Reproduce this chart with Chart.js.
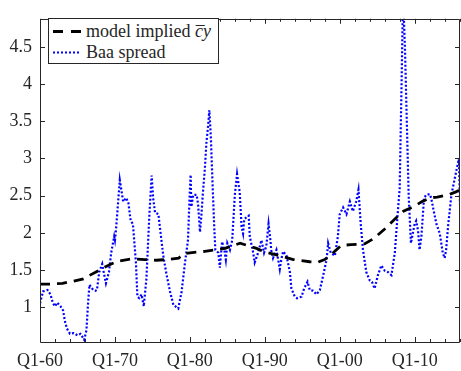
<!DOCTYPE html>
<html>
<head>
<meta charset="utf-8">
<script src="https://cdn.jsdelivr.net/npm/chart.js@4"></script>
<style>
  body { margin: 0; background: #fff; }
  #wrap { position: relative; width: 461px; height: 371px; }
  #legend {
    position: absolute; left: 48px; top: 18px; width: 171px; height: 46px;
    background: #fff; border: 1px solid #262626; box-sizing: border-box;
    font-family: "Times New Roman", Times, "Liberation Serif", "Noto Serif", "DejaVu Serif", serif;
    font-size: 18px; color: #262626;
  }
  .row { position: absolute; left: 3px; height: 20px; line-height: 20px; white-space: nowrap; }
  .row svg { position: absolute; left: 0; top: 9px; }
  .row span.txt { position: absolute; left: 34px; top: 0; }
</style>
</head>
<body>
<div id="wrap">
  <canvas id="chart" width="461" height="371"></canvas>
  <div id="legend"></div>
</div>
<script>
// Baa spread (quarterly)
const spreadYears = [
  1960.0, 1960.4, 1961.0, 1961.4, 1961.7, 1962.0, 1962.3, 1962.75, 1963.1, 1963.3,
  1963.6, 1964.0, 1964.5, 1965.0, 1965.4, 1965.9, 1966.2, 1966.4, 1966.6, 1966.8,
  1967.1, 1967.4, 1967.6, 1967.9, 1968.3, 1968.5, 1968.8, 1969.2, 1969.5, 1969.9,
  1970.0, 1970.1, 1970.3, 1970.65, 1970.9, 1971.1, 1971.5, 1971.8, 1972.1, 1972.4,
  1972.8, 1973.0, 1973.25, 1973.55, 1973.85, 1974.2, 1974.6, 1974.9, 1975.1, 1975.35,
  1975.8, 1976.1, 1976.45, 1976.9, 1977.35, 1977.8, 1978.45, 1978.9, 1979.35, 1979.75,
  1979.95, 1980.1, 1980.2, 1980.45, 1980.9, 1981.1, 1981.35, 1981.55, 1981.75, 1982.0,
  1982.2, 1982.45, 1982.6, 1982.8, 1983.0, 1983.25, 1983.4, 1983.8, 1984.0, 1984.3,
  1984.6, 1984.8, 1985.0, 1985.35, 1985.65, 1986.0, 1986.3, 1986.65, 1986.9, 1987.1,
  1987.25, 1987.55, 1987.85, 1988.0, 1988.45, 1988.65, 1989.1, 1989.55, 1989.9, 1990.2,
  1990.5, 1990.75, 1990.85, 1991.1, 1991.55, 1991.85, 1992.0, 1992.2, 1992.45, 1992.9,
  1993.35, 1993.55, 1994.0, 1994.3, 1994.9, 1995.25, 1995.7, 1996.0, 1996.45, 1996.9,
  1997.35, 1997.8, 1998.25, 1998.45, 1998.8, 1999.35, 1999.75, 2000.0, 2000.45, 2000.9,
  2001.35, 2001.75, 2002.2, 2002.5, 2002.8, 2003.1, 2003.55, 2004.0, 2004.3, 2004.65,
  2005.1, 2005.55, 2006.0, 2006.45, 2006.9, 2007.35, 2007.7, 2008.0, 2008.25, 2008.45,
  2008.7, 2008.95, 2009.2, 2009.5, 2010.0, 2010.2, 2010.45, 2010.65, 2010.9, 2011.25,
  2011.55, 2012.0, 2012.2, 2012.55, 2012.9, 2013.35, 2013.55, 2013.75, 2014.0, 2014.2,
  2014.45, 2014.9, 2015.35, 2015.7, 2015.9, 2016.05
];
const spreadValues = [
  1.05, 1.21, 1.23, 1.17, 1.06, 1.01, 1.06, 1.01, 0.95, 0.82,
  0.71, 0.64, 0.65, 0.62, 0.64, 0.56, 0.69, 1.03, 1.30, 1.27,
  1.23, 1.22, 1.23, 1.47, 1.58, 1.47, 1.32, 1.47, 1.73, 1.95,
  1.90, 1.99, 2.25, 2.71, 2.55, 2.42, 2.47, 2.40, 2.16, 2.12,
  1.60, 1.14, 1.12, 1.17, 1.01, 1.38, 2.25, 2.77, 2.47, 2.27,
  2.25, 1.99, 1.69, 1.43, 1.21, 1.03, 0.98, 1.21, 1.60, 1.90,
  2.45, 2.78, 2.35, 2.51, 2.51, 2.38, 2.01, 2.25, 2.55, 2.86,
  3.20, 3.46, 3.65, 3.29, 2.73, 2.08, 1.77, 1.73, 1.53, 1.88,
  1.77, 1.64, 1.86, 1.77, 1.90, 2.51, 2.79, 2.55, 2.08, 1.99,
  2.18, 2.21, 2.23, 1.95, 1.73, 1.60, 1.73, 1.90, 1.73, 1.82,
  2.12, 1.90, 1.77, 1.66, 1.77, 1.60, 1.51, 1.64, 1.75, 1.69,
  1.47, 1.25, 1.14, 1.12, 1.14, 1.25, 1.34, 1.23, 1.22, 1.17,
  1.23, 1.43, 1.64, 1.86, 1.73, 1.69, 1.95, 2.25, 2.34, 2.25,
  2.42, 2.29, 2.42, 2.58, 2.12, 1.77, 1.47, 1.36, 1.34, 1.25,
  1.43, 1.56, 1.49, 1.47, 1.43, 1.73, 2.21, 2.60, 4.00, 5.20,
  4.50, 3.50, 2.50, 1.86, 2.12, 2.16, 2.03, 1.77, 1.95, 2.47,
  2.51, 2.52, 2.47, 2.29, 2.12, 1.99, 1.86, 1.73, 1.66, 1.77,
  2.08, 2.51, 2.73, 2.90, 2.99, 2.38
];

// model implied cy
const modelYears = [
  1960.0, 1961.5, 1963.0, 1964.5, 1965.8, 1966.5, 1967.6, 1968.5, 1969.5, 1970.5,
  1972.4, 1974.0, 1975.5, 1977.0, 1978.5, 1979.3, 1980.0, 1982.0, 1984.7, 1986.7,
  1988.9, 1990.0, 1991.3, 1993.8, 1996.0, 1997.0, 1998.0, 1999.0, 2000.2, 2001.5,
  2003.3, 2004.5, 2006.0, 2007.5, 2008.5, 2010.0, 2011.0, 2012.0, 2013.0, 2014.5,
  2015.5, 2016.05
];
const modelValues = [
  1.31, 1.31, 1.32, 1.35, 1.38, 1.42, 1.48, 1.53, 1.58, 1.62,
  1.65, 1.64, 1.63, 1.64, 1.66, 1.72, 1.73, 1.75, 1.79, 1.86,
  1.79, 1.74, 1.71, 1.64, 1.61, 1.60, 1.64, 1.72, 1.83, 1.84,
  1.85, 1.92, 2.05, 2.20, 2.29, 2.36, 2.42, 2.47, 2.48, 2.51,
  2.55, 2.58
];

const seriesNames = ['model implied', 'Baa spread'];
const xTickYears  = [1960, 1970, 1980, 1990, 2000, 2010];
const xTickLabels = ['Q1-60', 'Q1-70', 'Q1-80', 'Q1-90', 'Q1-00', 'Q1-10'];
const xMinorYears = [1962, 1964, 1966, 1968, 1972, 1974, 1976, 1978, 1982, 1984, 1986, 1988,
                     1992, 1994, 1996, 1998, 2002, 2004, 2006, 2008, 2012, 2014, 2016];
const yTickValues = [1, 1.5, 2, 2.5, 3, 3.5, 4, 4.5];

const AXIS = '#262626';
const FONT = '"Times New Roman", Times, "Liberation Serif", "Noto Serif", "DejaVu Serif", serif';

// box around the axes, ticks pointing inward like matlab
const boxTicks = {
  id: 'boxTicks',
  afterDatasetsDraw(chart) {
    const { ctx, chartArea: a, scales: { x, y } } = chart;
    ctx.save();
    ctx.strokeStyle = AXIS;
    ctx.lineWidth = 1;
    ctx.beginPath();
    const tick = (px, len) => {
      ctx.moveTo(px, a.bottom); ctx.lineTo(px, a.bottom - len);
      ctx.moveTo(px, a.top);    ctx.lineTo(px, a.top + len);
    };
    xTickYears.forEach(v => tick(Math.round(x.getPixelForValue(v)) + 0.5, 5));
    xMinorYears.forEach(v => tick(Math.round(x.getPixelForValue(v)) + 0.5, 3));
    yTickValues.forEach(v => {
      const py = Math.round(y.getPixelForValue(v)) + 0.5;
      ctx.moveTo(a.left, py);  ctx.lineTo(a.left + 5, py);
      ctx.moveTo(a.right, py); ctx.lineTo(a.right - 5, py);
    });
    ctx.rect(Math.round(a.left) + 0.5, Math.round(a.top) + 0.5,
             Math.round(a.right - a.left) - 1, Math.round(a.bottom - a.top));
    ctx.stroke();
    ctx.restore();
  }
};

const chart = new Chart(document.getElementById('chart'), {
  type: 'line',
  data: {
    datasets: [
      {
        label: seriesNames[0],
        data: modelYears.map((v, i) => ({ x: v, y: modelValues[i] })),
        borderColor: '#000',
        borderWidth: 2.8,
        borderDash: [10, 7],
        pointRadius: 0,
        tension: 0,
        fill: false
      },
      {
        label: seriesNames[1],
        data: spreadYears.map((v, i) => ({ x: v, y: spreadValues[i] })),
        borderColor: '#0000ff',
        borderWidth: 2.2,
        borderDash: [2, 2],
        pointRadius: 0,
        tension: 0,
        fill: false
      }
    ]
  },
  options: {
    responsive: false,
    animation: false,
    layout: { padding: { top: 8, right: 1, left: 0, bottom: 0 } },
    plugins: { legend: { display: false }, tooltip: { enabled: false } },
    scales: {
      x: {
        type: 'linear',
        min: 1960,
        max: 2016.05,
        grid: { display: false, drawTicks: false },
        border: { display: false },
        afterBuildTicks: s => { s.ticks = xTickYears.map(v => ({ value: v })); },
        afterFit: s => { s.height = 29; },
        ticks: {
          autoSkip: false,
          maxRotation: 0,
          padding: 8,
          color: AXIS,
          font: { family: FONT, size: 18 },
          callback: v => xTickLabels[xTickYears.indexOf(v)]
        }
      },
      y: {
        min: 0.53,
        max: 4.88,
        grid: { display: false, drawTicks: false },
        border: { display: false },
        afterBuildTicks: s => { s.ticks = yTickValues.map(v => ({ value: v })); },
        afterFit: s => { s.width = 40; },
        ticks: {
          padding: 8,
          color: AXIS,
          font: { family: FONT, size: 18 },
          callback: v => String(v)
        }
      }
    }
  },
  plugins: [boxTicks]
});

// legend (html so the c-bar y can be italic)
const legend = document.getElementById('legend');
const samples = [
  '<svg width="30" height="3"><line x1="1" y1="1.5" x2="29" y2="1.5" stroke="#000" stroke-width="2.8" stroke-dasharray="10 8"/></svg>',
  '<svg width="30" height="3"><line x1="1" y1="1.5" x2="29" y2="1.5" stroke="#0000ff" stroke-width="2.2" stroke-dasharray="2 2"/></svg>'
];
const extras = [' <i>c&#773;y</i>', ''];
seriesNames.forEach((name, i) => {
  const row = document.createElement('div');
  row.className = 'row';
  row.style.top = (2 + i * 21) + 'px';
  row.innerHTML = samples[i] + '<span class="txt">' + name + extras[i] + '</span>';
  legend.appendChild(row);
});
</script>
</body>
</html>
